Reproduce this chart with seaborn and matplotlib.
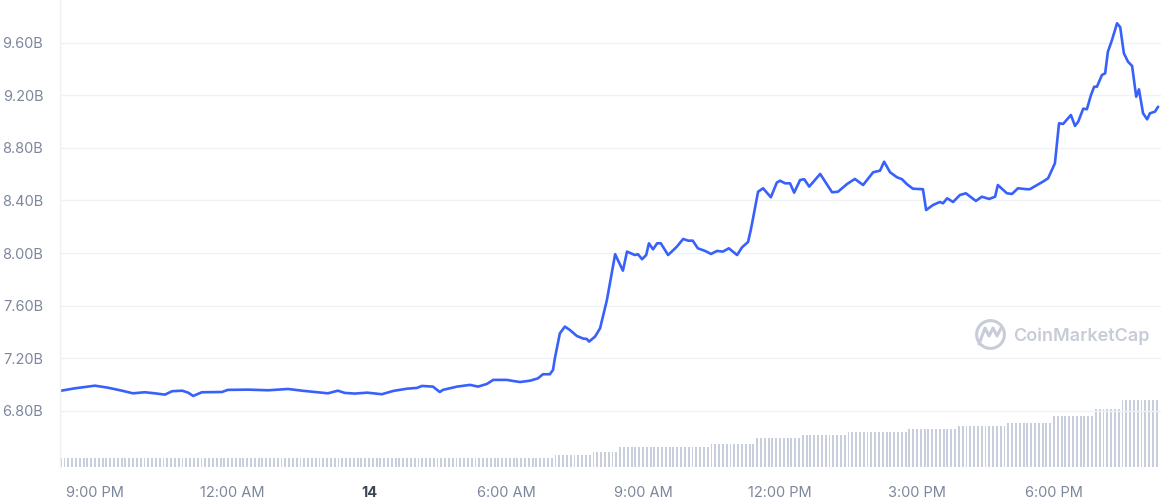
import numpy as np
import pandas as pd
import matplotlib
matplotlib.use('Agg')
import matplotlib.pyplot as plt
import seaborn as sns

# hours counted from midnight at the start of the 13th (24 = midnight of the 14th)
hours = [20.26, 20.56, 21.00, 21.28, 21.59, 21.83, 22.09, 22.31, 22.53, 22.69,
         22.91, 23.04, 23.15, 23.34, 23.78, 23.91, 24.35, 24.79, 25.23, 25.53,
         25.88, 26.10, 26.32, 26.47, 26.69, 26.96, 27.28, 27.53, 27.83, 28.05,
         28.16, 28.40, 28.55, 28.62, 28.93, 29.21, 29.39, 29.58, 29.72, 30.02,
         30.15, 30.31, 30.53, 30.70, 30.81, 30.96, 31.03, 31.07, 31.18, 31.29,
         31.40, 31.55, 31.69, 31.77, 31.82, 31.95, 32.06, 32.21, 32.39, 32.56,
         32.65, 32.82, 32.89, 32.98, 33.07, 33.13, 33.22, 33.31, 33.39, 33.55,
         33.74, 33.88, 33.99, 34.09, 34.20, 34.36, 34.49, 34.62, 34.75, 34.88,
         35.06, 35.17, 35.30, 35.36, 35.41, 35.52, 35.63, 35.80, 35.93, 36.00,
         36.11, 36.22, 36.31, 36.44, 36.53, 36.64, 36.88, 37.14, 37.27, 37.47,
         37.64, 37.82, 38.04, 38.19, 38.28, 38.41, 38.56, 38.67, 38.78, 38.91,
         39.13, 39.20, 39.35, 39.50, 39.57, 39.66, 39.79, 39.94, 40.07, 40.29,
         40.42, 40.58, 40.71, 40.77, 40.97, 41.08, 41.21, 41.41, 41.47, 41.63,
         41.76, 41.87, 42.02, 42.11, 42.20, 42.37, 42.46, 42.53, 42.64, 42.72,
         42.81, 42.88, 42.94, 43.05, 43.12, 43.18, 43.27, 43.38, 43.45, 43.53,
         43.62, 43.71, 43.80, 43.86, 43.95, 44.04, 44.10, 44.21, 44.28]

# market cap in billions USD
price_b = [6.954, 6.972, 6.992, 6.977, 6.954, 6.934, 6.942, 6.934, 6.924, 6.950,
           6.954, 6.939, 6.914, 6.942, 6.944, 6.960, 6.962, 6.957, 6.967, 6.954,
           6.942, 6.934, 6.954, 6.937, 6.932, 6.939, 6.927, 6.952, 6.969, 6.975,
           6.990, 6.985, 6.944, 6.960, 6.985, 6.998, 6.985, 7.005, 7.036, 7.036,
           7.028, 7.020, 7.030, 7.048, 7.079, 7.079, 7.112, 7.200, 7.390, 7.441,
           7.415, 7.370, 7.350, 7.347, 7.327, 7.365, 7.428, 7.643, 7.991, 7.866,
           8.011, 7.985, 7.991, 7.953, 7.985, 8.074, 8.028, 8.074, 8.074, 7.985,
           8.048, 8.107, 8.094, 8.094, 8.036, 8.016, 7.993, 8.016, 8.011, 8.036,
           7.985, 8.044, 8.084, 8.175, 8.264, 8.466, 8.492, 8.424, 8.535, 8.550,
           8.530, 8.530, 8.459, 8.555, 8.561, 8.505, 8.601, 8.462, 8.466, 8.525,
           8.563, 8.517, 8.614, 8.626, 8.694, 8.614, 8.576, 8.561, 8.523, 8.489,
           8.485, 8.327, 8.365, 8.388, 8.378, 8.416, 8.388, 8.441, 8.454, 8.396,
           8.428, 8.411, 8.428, 8.517, 8.454, 8.449, 8.492, 8.485, 8.485, 8.517,
           8.543, 8.568, 8.682, 8.986, 8.981, 9.049, 8.966, 8.998, 9.097, 9.093,
           9.201, 9.264, 9.264, 9.353, 9.366, 9.530, 9.619, 9.746, 9.716, 9.518,
           9.454, 9.422, 9.188, 9.244, 9.062, 9.016, 9.062, 9.074, 9.112]

# volume bars every 5 minutes, read as flat runs (number of bars, volume in billions)
vol_runs = [(130, 0.52), (10, 0.67), (7, 0.84), (24, 1.09), (12, 1.28), (12, 1.62),
            (12, 1.78), (16, 1.95), (13, 2.12), (13, 2.28), (12, 2.45), (11, 2.84),
            (7, 3.23), (10, 3.73)]
vol_start = 20.25

tick_hours = [21, 24, 27, 30, 33, 36, 39, 42]
tick_labels = ['9:00 PM', '12:00 AM', '14', '6:00 AM', '9:00 AM', '12:00 PM', '3:00 PM', '6:00 PM']
ytick_vals = [6.8, 7.2, 7.6, 8.0, 8.4, 8.8, 9.2, 9.6]

volume = []
for n, v in vol_runs:
    volume += [v] * n
vol_hours = vol_start + np.arange(len(volume)) / 12.0

df = pd.DataFrame({'hour': hours, 'cap': price_b})

sns.set_style('white')
plt.rcParams['font.family'] = ['Inter', 'DejaVu Sans']

fig = plt.figure(figsize=(11.61, 5.0), dpi=100)
ax = fig.add_axes([60 / 1161, 33 / 500, 1 - 60 / 1161, 467 / 500])
ax2 = ax.twinx()
ax.set_zorder(ax2.get_zorder() + 1)
ax.patch.set_visible(False)

# volume bars
ax2.bar(vol_hours, volume, width=1 / 12 * 0.5, color='#c9cedd', linewidth=0)
ax2.set_ylim(0, 26.0)
ax2.set_yticks([])
for s in ax2.spines.values():
    s.set_visible(False)

# market cap line
sns.lineplot(data=df, x='hour', y='cap', ax=ax, color='#3861fb', linewidth=1.9)
ax.set_xlim(20.234, 44.343)
ax.set_ylim(6.374, 9.923)
ax.set_yticks(ytick_vals)
ax.set_yticklabels(['{:.2f}B'.format(v) for v in ytick_vals])
ax.set_xticks(tick_hours)
ax.set_xticklabels(tick_labels)
ax.set_xlabel('')
ax.set_ylabel('')
ax.grid(axis='y', color='#eff2f5', linewidth=1)
ax.tick_params(axis='y', length=0, pad=12, labelsize=10.5, labelcolor='#7d879b')
ax.tick_params(axis='x', length=4, width=1, color='#9aa1b2', pad=10, labelsize=10.5,
               labelcolor='#7d879b', direction='out')
for lbl in ax.get_xticklabels():
    if lbl.get_text() == '14':
        lbl.set_fontweight('bold')
        lbl.set_color('#3e4554')
for k in ['top', 'right', 'bottom']:
    ax.spines[k].set_visible(False)
ax.spines['left'].set_color('#eef0f4')
ax.spines['left'].set_linewidth(1)

# watermark
fig.text(1013 / 1161, 1 - 336 / 500, 'CoinMarketCap', fontsize=13, color='#c8ccd8',
         fontweight='semibold', ha='left', va='center')
fig.lines.append(matplotlib.lines.Line2D([990 / 1161], [1 - 334 / 500], marker='o',
                                         markersize=20, markerfacecolor='none',
                                         markeredgecolor='#c8ccd8', markeredgewidth=2.2,
                                         transform=fig.transFigure))
wx = np.array([979, 985, 989, 993, 997, 1001]) / 1161
wy = 1 - np.array([344, 328, 336, 328, 336, 328]) / 500
fig.lines.append(matplotlib.lines.Line2D(wx, wy, color='#c8ccd8', linewidth=2.2,
                                         transform=fig.transFigure))

fig.savefig('out.png', dpi=100)
